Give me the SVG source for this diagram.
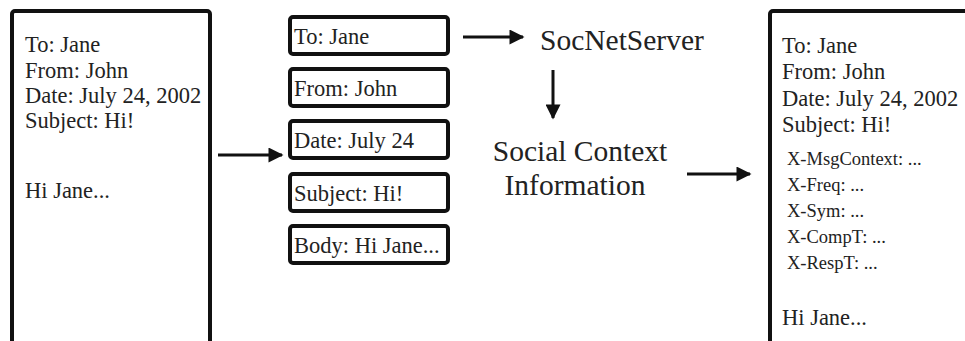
<svg xmlns="http://www.w3.org/2000/svg" width="965" height="341" viewBox="0 0 965 341" font-family="Liberation Serif">
<style>
.t{fill:#222}
.big{font-size:22.5px}
.sm{font-size:18.5px}
.lab{font-size:29.5px}
.frame{fill:#fff;stroke:#111;stroke-width:4}
.field{fill:#fff;stroke:#111;stroke-width:4}
.conn{stroke:#111;stroke-width:3;fill:none}
</style>
<defs>
<marker id="ah" viewBox="0 0 10 10" refX="9" refY="5" markerWidth="8" markerHeight="5" markerUnits="strokeWidth" orient="auto">
<path d="M0,0 L10,5 L0,10 z" fill="#111"/>
</marker>
</defs>
<rect width="965" height="341" fill="#fff"/>
<g id="original-email">
<rect class="frame" x="12" y="11" width="198" height="345" rx="3"/>
<text class="t big" x="25" y="52">To: Jane</text>
<text class="t big" x="25" y="78">From: John</text>
<text class="t big" x="25" y="103">Date: July 24, 2002</text>
<text class="t big" x="25" y="128">Subject: Hi!</text>
<text class="t big" x="25" y="198">Hi Jane...</text>
</g>
<g id="field-to">
<rect class="field" x="290" y="17" width="158" height="37" rx="3"/>
<text class="t big" x="294" y="44">To: Jane</text>
</g>
<g id="field-from">
<rect class="field" x="290" y="69" width="158" height="37" rx="3"/>
<text class="t big" x="294" y="96">From: John</text>
</g>
<g id="field-date">
<rect class="field" x="290" y="121" width="158" height="37" rx="3"/>
<text class="t big" x="294" y="148">Date: July 24</text>
</g>
<g id="field-subject">
<rect class="field" x="290" y="174" width="158" height="37" rx="3"/>
<text class="t big" x="294" y="201">Subject: Hi!</text>
</g>
<g id="field-body">
<rect class="field" x="290" y="226" width="158" height="37" rx="3"/>
<text class="t big" x="294" y="253">Body: Hi Jane...</text>
</g>
<g id="socnetserver">
<text class="t lab" x="540" y="50">SocNetServer</text>
</g>
<g id="social-context">
<text class="t lab" x="580" y="161" text-anchor="middle">Social Context</text>
<text class="t lab" x="575" y="195" text-anchor="middle">Information</text>
</g>
<g id="augmented-email">
<rect class="frame" x="770" y="11" width="230" height="345" rx="3"/>
<text class="t big" x="782" y="53">To: Jane</text>
<text class="t big" x="782" y="79">From: John</text>
<text class="t big" x="782" y="106">Date: July 24, 2002</text>
<text class="t big" x="782" y="132">Subject: Hi!</text>
<text class="t sm" x="787" y="165">X-MsgContext: ...</text>
<text class="t sm" x="787" y="191">X-Freq: ...</text>
<text class="t sm" x="787" y="217">X-Sym: ...</text>
<text class="t sm" x="787" y="243">X-CompT: ...</text>
<text class="t sm" x="787" y="269">X-RespT: ...</text>
<text class="t big" x="782" y="325">Hi Jane...</text>
</g>
<g id="connectors">
<line class="conn" x1="218" y1="155" x2="282" y2="155" marker-end="url(#ah)"/>
<line class="conn" x1="463" y1="37" x2="523" y2="37" marker-end="url(#ah)"/>
<line class="conn" x1="553" y1="70" x2="553" y2="118" marker-end="url(#ah)"/>
<line class="conn" x1="687" y1="174" x2="750" y2="174" marker-end="url(#ah)"/>
</g>
</svg>
